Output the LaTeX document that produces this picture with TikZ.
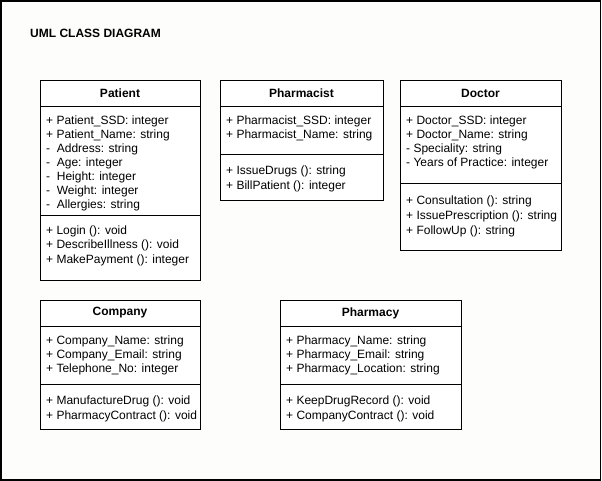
\documentclass[tikz,border=0pt]{standalone}
\usepackage{fontspec}
\setmainfont{Liberation Sans}
\begin{document}
\begin{tikzpicture}[x=1pt,y=-1pt,
  box/.style={draw=black, line width=0.9pt, fill=white},
  cls/.style={font=\fontsize{12}{14}\selectfont\bfseries, inner sep=0pt},
  mem/.style={font=\fontsize{12}{14}\selectfont, anchor=west, inner sep=0pt, yshift=-1.5pt},
  sep/.style={draw=black, line width=0.9pt}]
\useasboundingbox (0,0) rectangle (602,481);
\draw[fill={rgb,255:red,253;green,254;blue,251}, line width=1.6pt] (0.8,0.8) rectangle (600.6,479.8);
\node[cls, anchor=west] (title) at (30,33) {UML CLASS DIAGRAM};
% Patient
\draw[box] (40,80) rectangle (200,280);
\draw[sep] (40,106) -- (200,106);
\draw[sep] (40,215) -- (200,215);
\node[cls] (patient) at (120,93) {Patient};
\node[mem] (p1) at (46,120) {+ Patient\_SSD: integer};
\node[mem] (p2) at (46,134) {+ Patient\_Name: string};
\node[mem] (p3) at (46,148) {-\ \ Address: string};
\node[mem] (p4) at (46,162) {-\ \ Age: integer};
\node[mem] (p5) at (46,176) {-\ \ Height: integer};
\node[mem] (p6) at (46,190) {-\ \ Weight: integer};
\node[mem] (p7) at (46,204) {-\ \ Allergies: string};
\node[mem] (p8) at (46,230) {+ Login (): void};
\node[mem] (p9) at (46,244) {+ DescribeIllness (): void};
\node[mem] (p10) at (46,259) {+ MakePayment (): integer};
% Pharmacist
\draw[box] (220,80) rectangle (383,200);
\draw[sep] (220,106) -- (383,106);
\draw[sep] (220,154) -- (383,154);
\node[cls] (pharmacist) at (301.5,93) {Pharmacist};
\node[mem] (h1) at (226,120) {+ Pharmacist\_SSD: integer};
\node[mem] (h2) at (226,134) {+ Pharmacist\_Name: string};
\node[mem] (h3) at (226,170) {+ IssueDrugs (): string};
\node[mem] (h4) at (226,185) {+ BillPatient (): integer};
% Doctor
\draw[box] (400,80) rectangle (561,250);
\draw[sep] (400,106) -- (561,106);
\draw[sep] (400,183) -- (561,183);
\node[cls] (doctor) at (480.5,93) {Doctor};
\node[mem] (d1) at (406,120) {+ Doctor\_SSD: integer};
\node[mem] (d2) at (406,134) {+ Doctor\_Name: string};
\node[mem] (d3) at (406,148) {- Speciality: string};
\node[mem] (d4) at (406,162) {- Years of Practice: integer};
\node[mem] (d5) at (406,200) {+ Consultation (): string};
\node[mem] (d6) at (406,215) {+ IssuePrescription (): string};
\node[mem] (d7) at (406,230) {+ FollowUp (): string};
% Company
\draw[box] (40,300) rectangle (200,429);
\draw[sep] (40,326) -- (200,326);
\draw[sep] (40,384) -- (200,384);
\node[cls] (company) at (120,313) {Company};
\node[mem] (c1) at (46,340) {+ Company\_Name: string};
\node[mem] (c2) at (46,354) {+ Company\_Email: string};
\node[mem] (c3) at (46,368) {+ Telephone\_No: integer};
\node[mem] (c4) at (46,400) {+ ManufactureDrug (): void};
\node[mem] (c5) at (46,415) {+ PharmacyContract (): void};
% Pharmacy
\draw[box] (280,300) rectangle (461,429);
\draw[sep] (280,326) -- (461,326);
\draw[sep] (280,384) -- (461,384);
\node[cls] (pharmacy) at (370.5,313) {Pharmacy};
\node[mem] (f1) at (286,340) {+ Pharmacy\_Name: string};
\node[mem] (f2) at (286,354) {+ Pharmacy\_Email: string};
\node[mem] (f3) at (286,368) {+ Pharmacy\_Location: string};
\node[mem] (f4) at (286,400) {+ KeepDrugRecord (): void};
\node[mem] (f5) at (286,415) {+ CompanyContract (): void};
\end{tikzpicture}
\end{document}
